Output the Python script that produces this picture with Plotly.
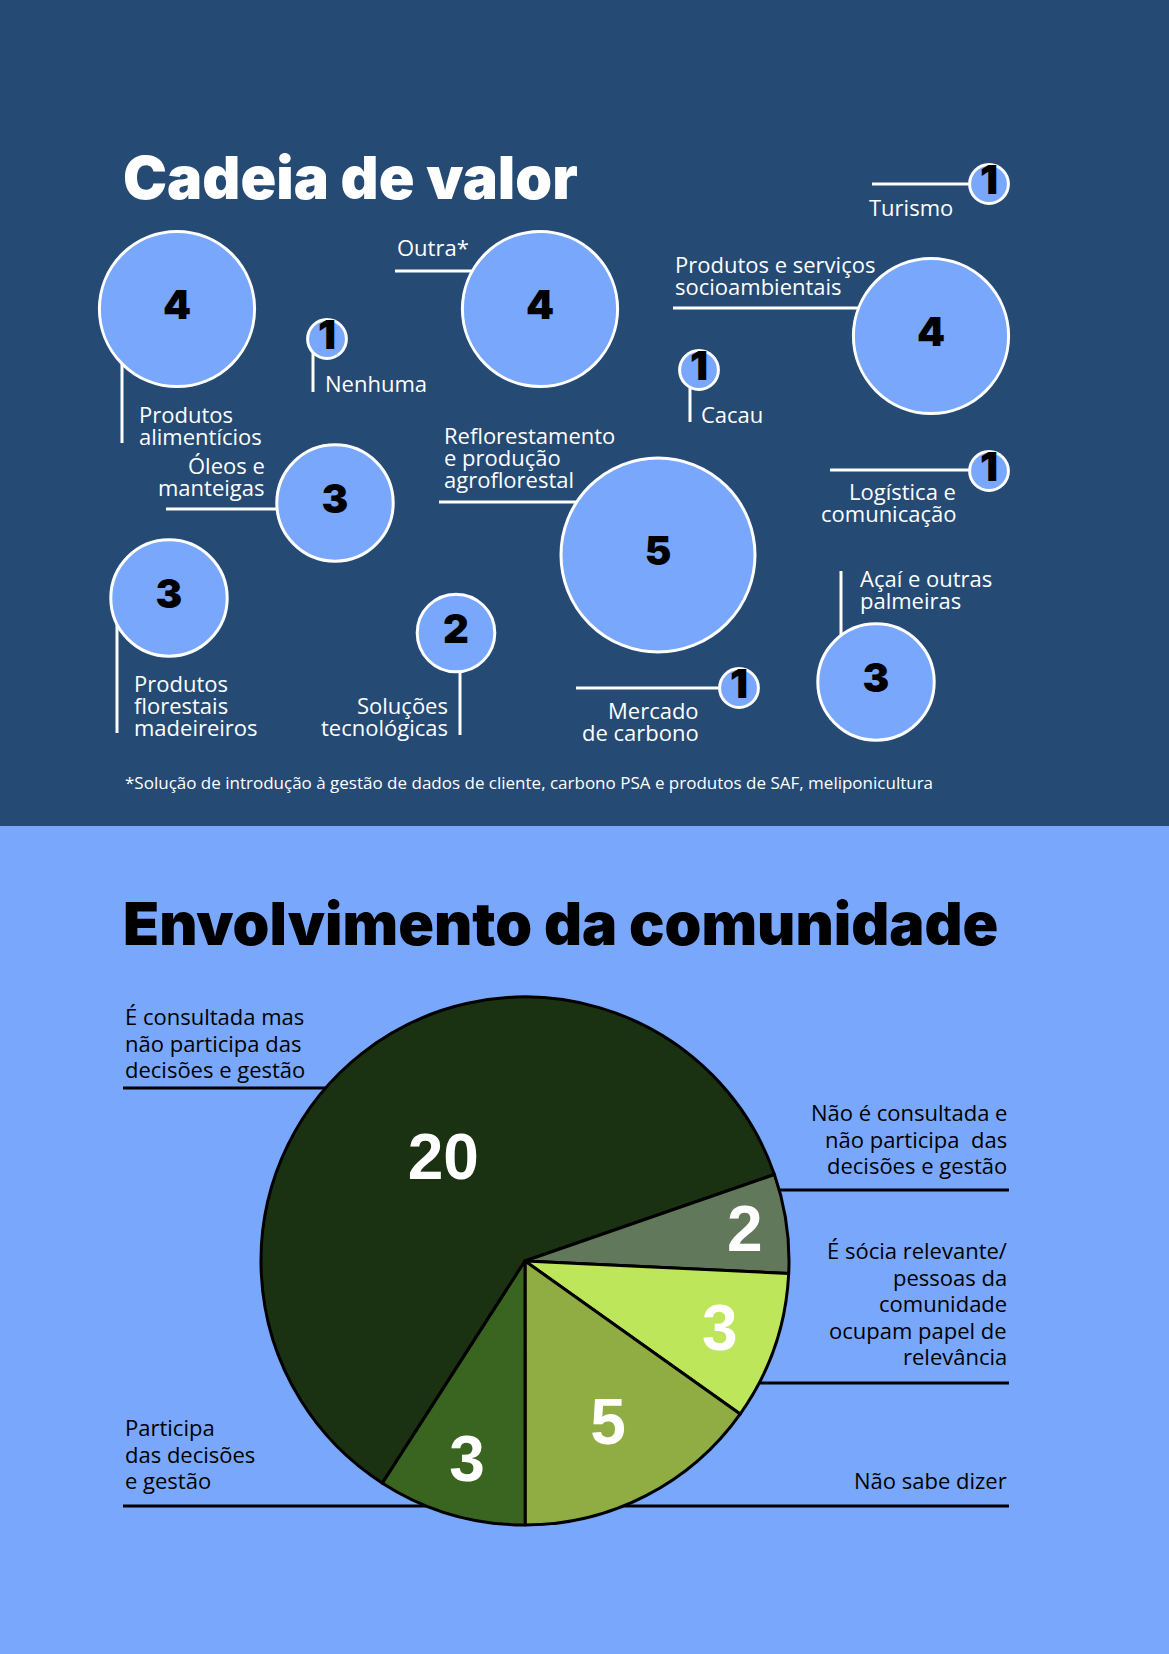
import plotly.graph_objects as go

# ---- data: Cadeia de valor ----
chain_labels = [
    "Produtos<br>alimentícios", "Nenhuma", "Outra*", "Turismo",
    "Produtos e serviços<br>socioambientais", "Cacau", "Óleos e<br>manteigas",
    "Reflorestamento<br>e produção<br>agroflorestal", "Logística e<br>comunicação",
    "Produtos<br>florestais<br>madeireiros", "Soluções<br>tecnológicas",
    "Mercado<br>de carbono", "Açaí e outras<br>palmeiras",
]
chain_counts = [4, 1, 4, 1, 4, 1, 3, 5, 1, 3, 2, 1, 3]
chain_note = ("*Solução de introdução à gestão de dados de cliente, carbono PSA "
              "e produtos de SAF, meliponicultura")

# ---- data: Envolvimento da comunidade ----
community_labels = [
    "É consultada mas<br>não participa das<br>decisões e gestão",
    "Não é consultada e<br>não participa  das<br>decisões e gestão",
    "É sócia relevante/<br>pessoas da<br>comunidade<br>ocupam papel de<br>relevância",
    "Não sabe dizer",
    "Participa<br>das decisões<br>e gestão",
]
community_counts = [20, 2, 3, 5, 3]

# ---- layout (page pixels) ----
W, H = 1169, 1654
SPLIT = 826
NAVY = "#254a74"
SKY = "#79a7fc"
HEAVY = "Inter"
BODY = "Open Sans"

bubble_x = [177, 327, 540, 989, 931, 699, 335, 658, 989, 169, 456, 739, 876]
bubble_y = [309, 339, 309, 184, 336, 370, 503, 555, 471, 598, 633, 688, 682]

# leader line (x0, y0, x1, y1), text x, first line y, anchor
callouts = [
    ((122, 340, 122, 443), 137, 414, "left"),
    ((313, 345, 313, 392), 323, 383, "left"),
    ((395, 271, 500, 271), 395, 247, "left"),
    ((872, 184, 980, 184), 867, 207, "left"),
    ((673, 308, 900, 308), 673, 264, "left"),
    ((690, 375, 690, 422), 699, 414, "left"),
    ((166, 509, 320, 509), 267, 465, "right"),
    ((439, 502, 640, 502), 442, 435, "left"),
    ((830, 470, 980, 470), 958, 491, "right"),
    ((117, 600, 117, 733), 132, 683, "left"),
    ((460, 640, 460, 735), 450, 705, "right"),
    ((576, 688, 730, 688), 701, 710, "right"),
    ((841, 571, 841, 660), 858, 578, "left"),
]

pie_cx, pie_cy, pie_r = 525, 1261, 264
community_anchor = [
    (123, 1016, "left", (123, 1088, 420, 1088)),
    (1009, 1112, "right", (700, 1190, 1009, 1190)),
    (1009, 1250, "right", (650, 1383, 1009, 1383)),
    (1009, 1480, "right", (123, 1506, 1009, 1506)),
    (123, 1427, "left", None),
]

fig = go.Figure()
shapes = [dict(type="rect", xref="paper", yref="y", x0=0, x1=1, y0=0, y1=SPLIT,
               fillcolor=NAVY, line_width=0, layer="below")]
annotations = []


def add_text(text, x, y, anchor, size, color, spacing):
    for i, line in enumerate(text.split("<br>")):
        annotations.append(dict(
            x=x, y=y + i * spacing, xref="x", yref="y", text=line,
            showarrow=False, xanchor=anchor, yanchor="middle",
            font=dict(family=BODY, size=size, color=color)))


for (line, tx, ty, anchor), label in zip(callouts, chain_labels):
    x0, y0, x1, y1 = line
    shapes.append(dict(type="line", xref="x", yref="y", x0=x0, y0=y0, x1=x1,
                       y1=y1, line=dict(color="white", width=3), layer="below"))
    add_text(label, tx, ty, anchor, 22, "white", 22)

fig.add_trace(go.Scatter(
    x=bubble_x, y=bubble_y, mode="markers+text",
    text=[str(v) for v in chain_counts], textposition="middle center",
    textfont=dict(family=HEAVY, size=40, color="black", weight=900),
    marker=dict(size=chain_counts, sizemode="diameter", sizeref=1 / 38.8,
                color=SKY, line=dict(color="white", width=3), opacity=1),
    hoverinfo="skip", showlegend=False, cliponaxis=False,
))

annotations.append(dict(x=121, y=177, xref="x", yref="y", text="Cadeia de valor",
                        showarrow=False, xanchor="left", yanchor="middle",
                        font=dict(family=HEAVY, size=59, color="white", weight=900)))
annotations.append(dict(x=123, y=782, xref="x", yref="y", text=chain_note,
                        showarrow=False, xanchor="left", yanchor="middle",
                        font=dict(family=BODY, size=17, color="white")))
annotations.append(dict(x=121, y=923, xref="x", yref="y",
                        text="Envolvimento da comunidade",
                        showarrow=False, xanchor="left", yanchor="middle",
                        font=dict(family=HEAVY, size=59, color="black", weight=900)))

for (tx, ty, anchor, line), label in zip(community_anchor, community_labels):
    if line:
        x0, y0, x1, y1 = line
        shapes.append(dict(type="line", xref="x", yref="y", x0=x0, y0=y0,
                           x1=x1, y1=y1, line=dict(color="black", width=3),
                           layer="below"))
    add_text(label, tx, ty, anchor, 22, "black", 26.5)

fig.add_trace(go.Pie(
    labels=[l.replace("<br>", " ") for l in community_labels],
    values=community_counts, sort=False, direction="clockwise", rotation=212.7,
    marker=dict(colors=["#1b3212", "#62785a", "#bde65a", "#8fad42", "#3a6520"],
                line=dict(color="black", width=3)),
    textinfo="value", textposition="inside", insidetextorientation="horizontal",
    textfont=dict(family="Liberation Sans", size=64, color="white", weight=700),
    domain=dict(x=[(pie_cx - pie_r) / W, (pie_cx + pie_r) / W],
                y=[1 - (pie_cy + pie_r) / H, 1 - (pie_cy - pie_r) / H]),
    hoverinfo="skip", showlegend=False,
))

fig.update_layout(
    width=W, height=H, margin=dict(l=0, r=0, t=0, b=0),
    paper_bgcolor=SKY, plot_bgcolor="rgba(0,0,0,0)",
    xaxis=dict(range=[0, W], visible=False, fixedrange=True),
    yaxis=dict(range=[H, 0], visible=False, fixedrange=True),
    uniformtext=dict(minsize=64, mode="show"),
    shapes=shapes, annotations=annotations, showlegend=False,
)

fig.write_html("out.html", config={"displayModeBar": False},
               post_script="document.body.style.margin='0';")
